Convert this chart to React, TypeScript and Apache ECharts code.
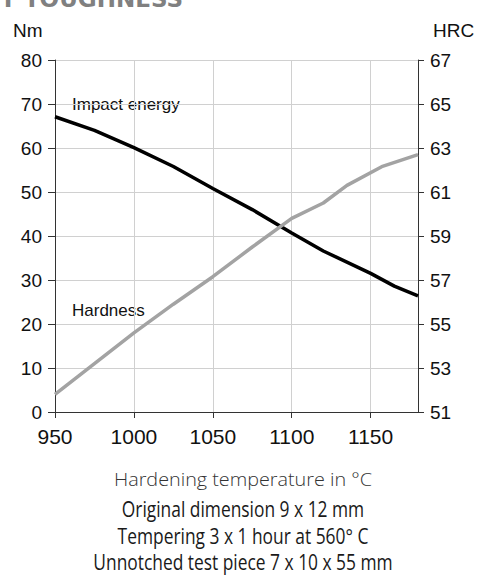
import React, { useEffect, useRef } from "react";
import * as echarts from "echarts";

const impactTemps = [950, 975, 1000, 1025, 1050, 1075, 1100, 1120, 1150, 1165, 1180];
const impactEnergy = [67.1, 64.0, 60.1, 55.8, 50.8, 46.0, 40.7, 36.6, 31.5, 28.6, 26.4];

const hardnessTemps = [950, 975, 1000, 1025, 1050, 1075, 1100, 1120, 1135, 1157, 1180];
const hardnessHRC = [51.8, 53.2, 54.6, 55.9, 57.15, 58.5, 59.8, 60.5, 61.3, 62.15, 62.7];

const xTitle = "Hardening temperature in °C";
const notes = [
  "Original dimension 9 x 12 mm",
  "Tempering 3 x 1 hour at 560° C",
  "Unnotched test piece 7 x 10 x 55 mm",
];

export default function App() {
  const ref = useRef<HTMLDivElement>(null);
  useEffect(() => {
    if (!ref.current) return;
    const chart = echarts.init(ref.current, null, { renderer: "svg" });
    const axisColor = "#333";
    const labelFont = "Liberation Sans";
    chart.setOption({
      animation: false,
      backgroundColor: "#fff",
      grid: { left: 55, right: 62, top: 60, bottom: 167, containLabel: false },
      xAxis: {
        type: "value",
        min: 950,
        max: 1180,
        interval: 50,
        axisLine: { show: true, lineStyle: { color: axisColor, width: 1 } },
        axisTick: { show: true, length: 6, lineStyle: { color: axisColor } },
        axisLabel: {
          showMaxLabel: false,
          margin: 14,
          fontFamily: labelFont,
          fontSize: 21,
          color: "#111",
          formatter: (v: number) => String(v),
        },
        splitLine: { show: true, lineStyle: { color: "#d0d0d0", width: 1 } },
      },
      yAxis: [
        {
          type: "value",
          min: 0,
          max: 80,
          interval: 10,
          position: "left",
          name: "Nm",
          nameLocation: "end",
          nameGap: 30,
          nameTextStyle: {
            fontFamily: labelFont,
            fontSize: 19,
            color: "#111",
            align: "left",
            verticalAlign: "middle",
            padding: [0, 0, 0, -42],
          },
          axisLine: { show: true, lineStyle: { color: axisColor, width: 1 } },
          axisTick: { show: true, length: 7, lineStyle: { color: axisColor } },
          axisLabel: { margin: 13, fontFamily: labelFont, fontSize: 19, color: "#111" },
          splitLine: { show: true, lineStyle: { color: "#d0d0d0", width: 1 } },
        },
        {
          type: "value",
          min: 51,
          max: 67,
          interval: 2,
          position: "right",
          name: "HRC",
          nameLocation: "end",
          nameGap: 30,
          nameTextStyle: {
            fontFamily: labelFont,
            fontSize: 19,
            color: "#111",
            align: "left",
            verticalAlign: "middle",
            padding: [0, 0, 0, 15],
          },
          axisLine: { show: true, lineStyle: { color: axisColor, width: 1 } },
          axisTick: { show: true, length: 6, lineStyle: { color: axisColor } },
          axisLabel: { margin: 12, fontFamily: labelFont, fontSize: 19, color: "#111" },
          splitLine: { show: false },
        },
      ],
      series: [
        {
          name: "Impact energy",
          type: "line",
          yAxisIndex: 0,
          data: impactTemps.map((t, i) => [t, impactEnergy[i]]),
          showSymbol: false,
          lineStyle: { color: "#000", width: 3.5 },
          itemStyle: { color: "#000" },
        },
        {
          name: "Hardness",
          type: "line",
          yAxisIndex: 1,
          data: hardnessTemps.map((t, i) => [t, hardnessHRC[i]]),
          showSymbol: false,
          lineStyle: { color: "#a3a3a3", width: 3.5 },
          itemStyle: { color: "#a3a3a3" },
        },
      ],
      graphic: [
        {
          type: "text",
          right: 297,
          top: -13,
          style: {
            text: "IMPACT TOUGHNESS",
            font: "bold 23px 'DejaVu Sans'",
            fill: "#808080",
          },
        },
        {
          type: "text",
          x: 72,
          y: 104,
          style: {
            text: "Impact energy",
            font: "17px 'Liberation Sans'",
            fill: "#111",
            verticalAlign: "middle",
            align: "left",
          },
        },
        {
          type: "text",
          x: 72,
          y: 310,
          style: {
            text: "Hardness",
            font: "17px 'Liberation Sans'",
            fill: "#111",
            verticalAlign: "middle",
            align: "left",
          },
        },
        {
          type: "text",
          x: 243,
          y: 479,
          scaleX: 1.07,
          style: {
            text: xTitle,
            font: "300 18.5px 'Open Sans'",
            fill: "#333333",
            align: "center",
            verticalAlign: "middle",
          },
        },
        ...notes.map((n, i) => ({
          type: "text",
          x: 243,
          y: 509 + i * 26.5,
          scaleX: 0.79,
          style: {
            text: n,
            font: "22px 'Open Sans'",
            fill: "#1a1a1a",
            align: "center",
            verticalAlign: "middle",
          },
        })),
      ],
    });
    return () => chart.dispose();
  }, []);
  return (
    <div
      ref={ref}
      style={{ position: "fixed", left: 0, top: 0, width: 480, height: 579 }}
    />
  );
}
